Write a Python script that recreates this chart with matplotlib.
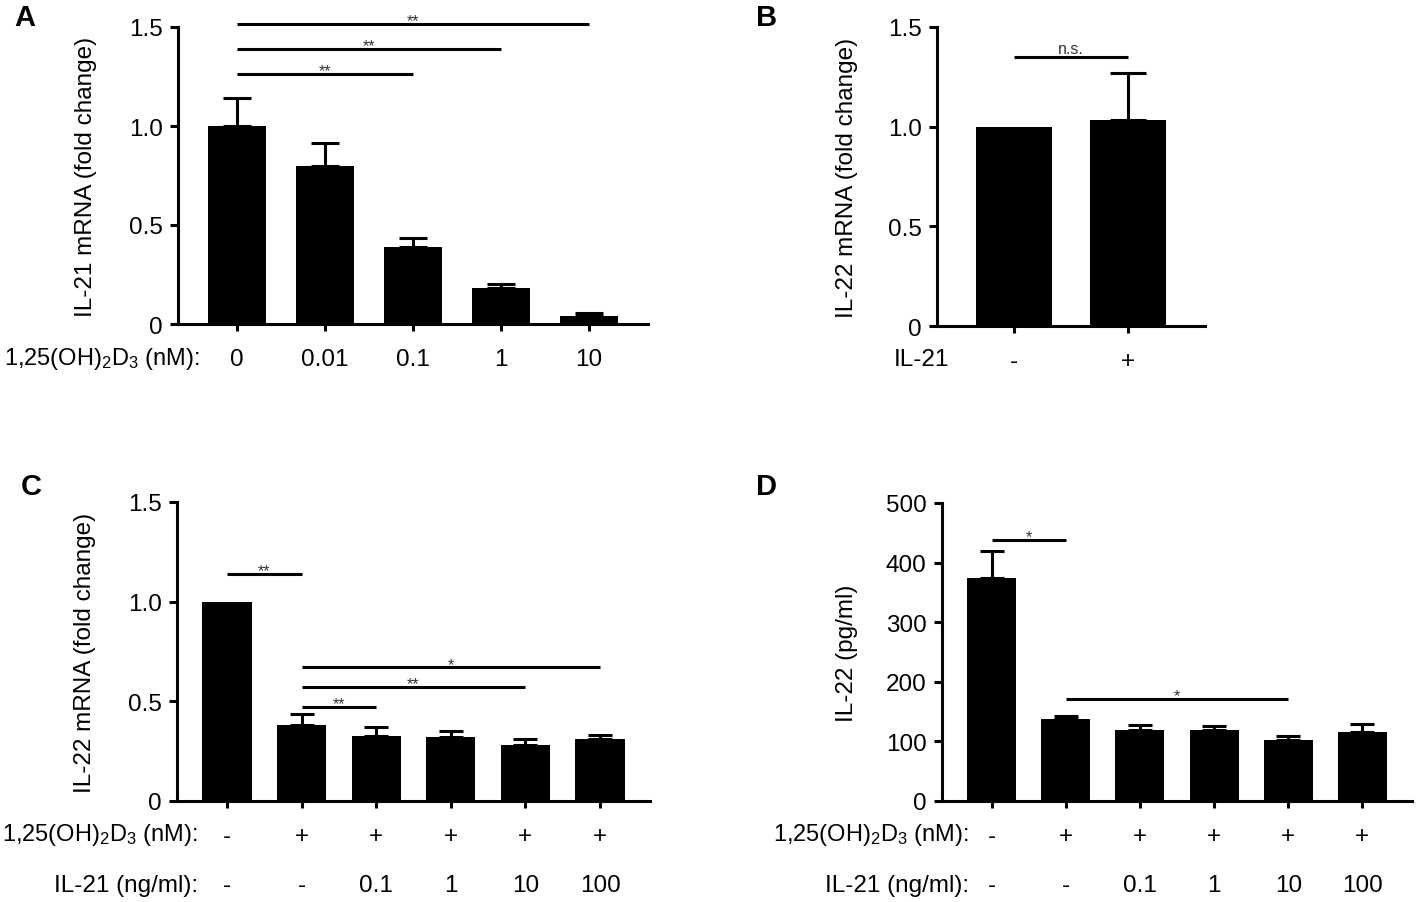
import numpy as np
import matplotlib
matplotlib.use('Agg')
import matplotlib.pyplot as plt

plt.rcParams['font.family'] = ['Liberation Sans', 'DejaVu Sans']
plt.rcParams['mathtext.fontset'] = 'custom'
plt.rcParams['mathtext.rm'] = 'Liberation Sans'
plt.rcParams['mathtext.it'] = 'Liberation Sans:italic'
plt.rcParams['mathtext.bf'] = 'Liberation Sans:bold'

W, H = 1416, 903
FS = 17.5     # main text size
LW = 2.2      # axis / bar line width
VD = r'1,25(OH)$_2$D$_3$ (nM):'

# A: IL-21 mRNA vs vitamin D dose
a_labels = ['0', '0.01', '0.1', '1', '10']
a_mean = [1.00, 0.80, 0.387, 0.183, 0.042]
a_err = [0.14, 0.116, 0.049, 0.021, 0.014]
a_sig = [(0, 2, 1.263, '**'), (0, 3, 1.39, '**'), (0, 4, 1.517, '**')]

# B: IL-22 mRNA with / without IL-21
b_labels = ['-', '+']
b_mean = [1.00, 1.035]
b_err = [0.0, 0.235]
b_sig = [(0, 1, 1.35, 'n.s.')]

# C: IL-22 mRNA
c_vd = ['-', '+', '+', '+', '+', '+']
c_il21 = ['-', '-', '0.1', '1', '10', '100']
c_mean = [1.00, 0.382, 0.327, 0.322, 0.282, 0.312]
c_err = [0.0, 0.054, 0.042, 0.030, 0.031, 0.020]
c_sig = [(0, 1, 1.14, '**'), (1, 2, 0.473, '**'), (1, 4, 0.573, '**'), (1, 5, 0.670, '*')]

# D: IL-22 protein
d_vd = ['-', '+', '+', '+', '+', '+']
d_il21 = ['-', '-', '0.1', '1', '10', '100']
d_mean = [374, 138, 119, 118.4, 102.8, 116]
d_err = [46, 4.5, 8, 7.3, 5.6, 13.6]
d_sig = [(0, 1, 438, '*'), (1, 4, 171.5, '*')]

fig = plt.figure(figsize=(W / 100, H / 100), dpi=100)


def px_axes(x0, y0, x1, y1):
    return fig.add_axes([x0 / W, 1 - y1 / H, (x1 - x0) / W, (y1 - y0) / H])


def draw_panel(ax, means, errs, labels, ylim, yticks, yticklabels, ylabel,
               label_x, sigs, spacing_px):
    n = len(means)
    x = np.arange(n)
    ax.bar(x, means, width=0.66, color='black', zorder=2)
    m = np.array(errs) > 0
    cap = 0.16 * spacing_px * 72 / 100
    ax.errorbar(x[m], np.array(means)[m],
                yerr=[np.zeros(m.sum()), np.array(errs)[m]],
                fmt='none', ecolor='black', elinewidth=LW, capsize=cap,
                capthick=LW, zorder=1)
    ax.set_xlim(-0.67, n - 1 + 0.67)
    ax.set_ylim(*ylim)
    ax.set_xticks(x)
    ax.set_xticklabels(labels, fontsize=FS)
    ax.set_yticks(yticks)
    ax.set_yticklabels(yticklabels, fontsize=FS)
    for s in ['top', 'right']:
        ax.spines[s].set_visible(False)
    for s in ['left', 'bottom']:
        ax.spines[s].set_linewidth(LW)
    ax.tick_params(axis='x', length=5, width=LW, pad=12)
    ax.tick_params(axis='y', length=6, width=LW, pad=5)
    ax.set_ylabel(ylabel, fontsize=FS, va='center')
    ax.yaxis.set_label_coords(label_x, 0.5)
    for i, j, y, txt in sigs:
        ax.plot([i, j], [y, y], color='black', lw=LW, clip_on=False,
                solid_capstyle='butt')
        off = 3 if txt == 'n.s.' else -1
        ax.annotate(txt, xy=((i + j) / 2, y), xytext=(0, off),
                    textcoords='offset points', ha='center', va='baseline',
                    fontsize=11.5, color='#333333', annotation_clip=False)


def row2(ax, labels, off_px):
    for i, lbl in enumerate(labels):
        ax.annotate(lbl, xy=(i, 0), xycoords=('data', 'axes fraction'),
                    xytext=(0, -off_px * 0.72), textcoords='offset points',
                    ha='center', va='baseline', fontsize=FS,
                    annotation_clip=False)


def ftext(x, y, s, size=FS, **kw):
    fig.text(x / W, 1 - y / H, s, fontsize=size, **kw)


ticks15 = [0, 0.5, 1.0, 1.5]
lab15 = ['0', '0.5', '1.0', '1.5']

axA = px_axes(178, 28, 648, 325)
draw_panel(axA, a_mean, a_err, a_labels, (0, 1.5), ticks15, lab15,
           'IL-21 mRNA (fold change)', (86 - 178) / 470, a_sig, 88)

axB = px_axes(937, 28, 1205, 327)
draw_panel(axB, b_mean, b_err, b_labels, (0, 1.5), ticks15, lab15,
           'IL-22 mRNA (fold change)', (847 - 937) / 268, b_sig, 114)

axC = px_axes(177, 503, 650, 802)
draw_panel(axC, c_mean, c_err, c_vd, (0, 1.5), ticks15, lab15,
           'IL-22 mRNA (fold change)', (85.5 - 177) / 473, c_sig, 74.6)
row2(axC, c_il21, 90.5)

axD = px_axes(942, 504, 1412, 802)
draw_panel(axD, d_mean, d_err, d_vd, (0, 500), [0, 100, 200, 300, 400, 500],
           ['0', '100', '200', '300', '400', '500'],
           'IL-22 (pg/ml)', (847 - 942) / 470, d_sig, 74.2)
row2(axD, d_il21, 90.5)

# row captions
ftext(200, 365.5, VD, size=17, ha='right', va='baseline')
ftext(949, 365.5, 'IL-21', ha='right', va='baseline')
ftext(198, 841.5, VD, size=17, ha='right', va='baseline')
ftext(198, 892.5, 'IL-21 (ng/ml):', ha='right', va='baseline')
ftext(969, 841.5, VD, size=17, ha='right', va='baseline')
ftext(969, 892.5, 'IL-21 (ng/ml):', ha='right', va='baseline')

# panel letters
for lx, ly, letter in [(25, 25.5, 'A'), (767, 25.5, 'B'),
                       (31, 495.5, 'C'), (767, 495.5, 'D')]:
    ftext(lx, ly, letter, size=21, ha='center', va='baseline',
          fontweight='bold')

fig.savefig('out.png', dpi=100)
